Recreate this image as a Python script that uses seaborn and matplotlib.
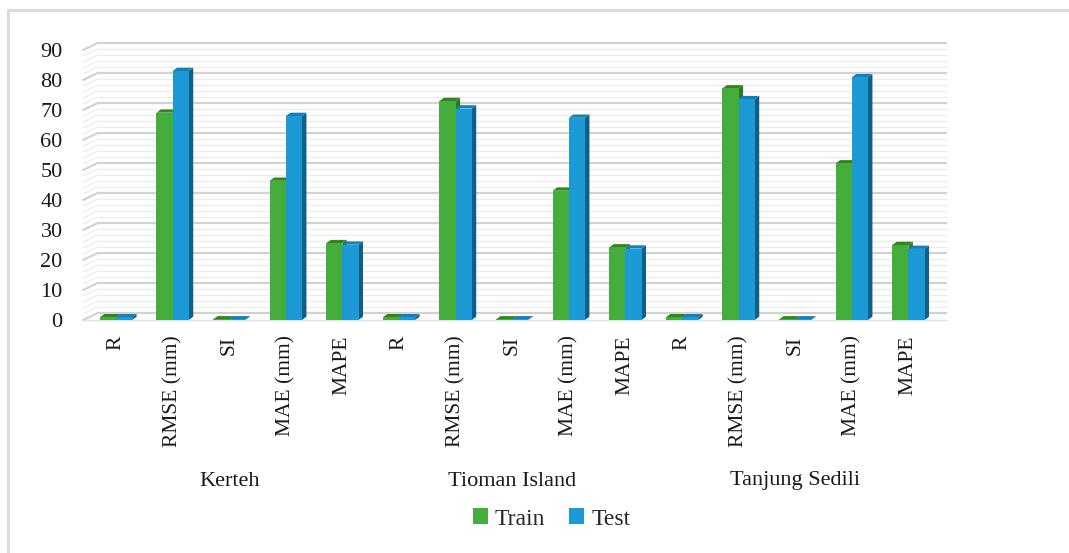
import numpy as np
import pandas as pd
import matplotlib
matplotlib.use("Agg")
import matplotlib.pyplot as plt
import matplotlib.transforms as mtransforms
from matplotlib.patches import Polygon, Patch
from matplotlib.lines import Line2D
import seaborn as sns

# ---- data ----
stations = ["Kerteh", "Tioman Island", "Tanjung Sedili"]
metrics = ["R", "RMSE (mm)", "SI", "MAE (mm)", "MAPE"]
train_kerteh = [0.9, 69.1, 0.2, 46.4, 25.6]
train_tioman = [0.9, 73.0, 0.2, 43.1, 24.2]
train_tanjung = [0.9, 77.2, 0.2, 52.2, 25.0]
test_kerteh = [0.9, 83.0, 0.2, 68.0, 25.1]
test_tioman = [0.9, 70.5, 0.2, 67.4, 23.8]
test_tanjung = [0.9, 73.6, 0.2, 80.9, 23.7]
series = ["Train", "Test"]
yticks = [0, 10, 20, 30, 40, 50, 60, 70, 80, 90]

train_all = train_kerteh + train_tioman + train_tanjung
test_all = test_kerteh + test_tioman + test_tanjung
slots = [f"{s}|{m}" for s in stations for m in metrics]
df = pd.DataFrame({
    "slot": slots * 2,
    "value": train_all + test_all,
    "series": ["Train"] * len(slots) + ["Test"] * len(slots),
})

# ---- style ----
sns.set_theme(style="white")
plt.rcParams["font.family"] = ["Liberation Serif", "DejaVu Serif"]

front = {"Train": "#45ad3b", "Test": "#1b9ad6"}
side = {"Train": "#2c7a22", "Test": "#0f5f86"}
top = {"Train": "#33861f", "Test": "#1580b6"}

W, H = 1069, 553
fig = plt.figure(figsize=(W / 100, H / 100), dpi=100)
px_unit_x = 56.6
px_unit_y = 3.0
x0_px = 116.0
y0_px = 320.0
xlim = (-0.6, 14.8)
ylim = (-1.0, 93.0)
left = (x0_px + xlim[0] * px_unit_x) / W
right = (x0_px + xlim[1] * px_unit_x) / W
bottom = (H - (y0_px - ylim[0] * px_unit_y)) / H
topf = (H - (y0_px - ylim[1] * px_unit_y)) / H
ax = fig.add_axes([left, bottom, right - left, topf - bottom])

# back wall gridlines (offset to mimic 3D depth)
dxw = 10 / px_unit_x
dyw = 7 / px_unit_y
for v in np.arange(0, 91, 2):
    major = (v % 10 == 0)
    col = "#d2d2d2" if major else "#ececec"
    lw = 1.6 if major else 0.9
    ax.plot([-0.5 + dxw, 14.5 + dxw], [v + dyw, v + dyw], color=col, lw=lw,
            zorder=0.5 if not major else 0.6, clip_on=False, solid_capstyle="butt")
    ax.plot([-0.5 - 0.08, -0.5 + dxw], [v, v + dyw], color=col, lw=lw,
            zorder=0.5, clip_on=False)
# floor edge
ax.plot([-0.5 - 0.08, 14.5 + dxw], [0, 0], color="#e4e4e4", lw=1.0, zorder=0.4, clip_on=False)

sns.barplot(data=df, x="slot", y="value", hue="series", order=slots,
            hue_order=series, palette=front, width=0.57, saturation=1,
            edgecolor="none", linewidth=0, ax=ax, legend=False, zorder=3)

# 3D faces for bars
dx = 4.5 / px_unit_x
dy = 3.3 / px_unit_y
n = len(slots)
for i, p in enumerate(ax.patches):
    s = series[i // n] if i < 2 * n else None
    if s is None:
        continue
    x = p.get_x(); w = p.get_width(); h = p.get_height()
    z = 2.8 if s == "Train" else 3.2
    p.set_zorder(z + 0.05 if s == "Test" else 2.7)
    sd = Polygon([(x + w, 0), (x + w + dx, dy), (x + w + dx, h + dy), (x + w, h)],
                 closed=True, facecolor=side[s], edgecolor="none", zorder=z - 0.1 if s == "Train" else z)
    tp = Polygon([(x, h), (x + dx, h + dy), (x + w + dx, h + dy), (x + w, h)],
                 closed=True, facecolor=top[s], edgecolor="none", zorder=z - 0.1 if s == "Train" else z)
    ax.add_patch(sd)
    ax.add_patch(tp)

ax.set_xlim(*xlim)
ax.set_ylim(*ylim)
for sp in ax.spines.values():
    sp.set_visible(False)
ax.set_xlabel("")
ax.set_ylabel("")
ax.set_yticks(yticks)
ax.set_yticklabels([str(t) for t in yticks], fontsize=16, color="#1a1a1a")
ax.set_xticks(range(n))
ax.set_xticklabels([m for s in stations for m in metrics], rotation=90,
                   fontsize=15.5, color="#1a1a1a", va="top")
ax.tick_params(axis="y", length=0, pad=14)
ax.tick_params(axis="x", length=0, pad=9)
ax.patch.set_alpha(0)

# station group labels
trans = mtransforms.blended_transform_factory(ax.transData, fig.transFigure)
for k, s in enumerate(stations):
    ax.text(k * len(metrics) + 2, 1 - 481 / H, s, transform=trans, ha="center",
            va="center", fontsize=16, color="#1a1a1a")

# legend
handles = [Patch(facecolor=front[s], edgecolor="none", label=s) for s in series]
fig.legend(handles=handles, loc="center", bbox_to_anchor=(0.516, 1 - 519 / H),
           ncol=2, frameon=False, fontsize=17, handlelength=0.65, handleheight=0.65,
           handletextpad=0.3, columnspacing=1.0)

# outer frame
fig.add_artist(Line2D([8 / W, 8 / W], [0, 1 - 10 / H], color="#d9d9d9", lw=2.0))
fig.add_artist(Line2D([8 / W, 1], [1 - 10 / H, 1 - 10 / H], color="#d9d9d9", lw=2.0))

fig.savefig("out.png", dpi=100)
